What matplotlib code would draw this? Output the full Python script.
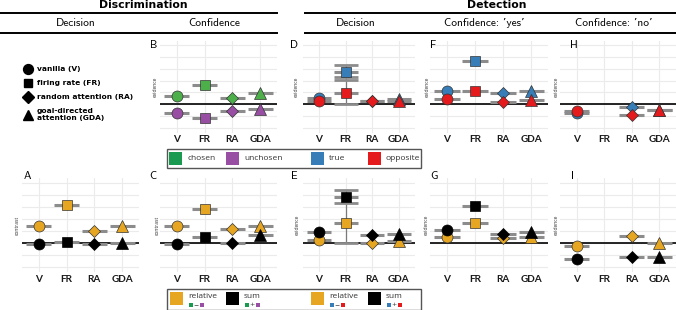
import numpy as np
import matplotlib
matplotlib.use("Agg")
import matplotlib.pyplot as plt
from matplotlib.patches import Rectangle

# ---------------- data ----------------
categories = ["V", "FR", "RA", "GDA"]
shapes = ["o", "s", "D", "^"]
shape_labels = ["vanilla (V)", "firing rate (FR)", "random attention (RA)",
                "goal-directed\nattention (GDA)"]

# Discrimination
disc_dec_relative = [1.44, 3.19, 1.00, 1.38]      # A
disc_dec_sum = [-0.08, 0.13, -0.08, 0.00]
disc_conf_chosen = [0.71, 1.65, 0.54, 0.97]       # B
disc_conf_unchosen = [-0.74, -1.17, -0.57, -0.40]
disc_conf_relative = [1.44, 2.83, 1.17, 1.44]     # C
disc_conf_sum = [-0.08, 0.47, -0.03, 0.67]

# Detection
det_dec_true = [0.54, 2.76, 0.30, 0.45]           # D
det_dec_opposite = [0.28, 0.97, 0.28, 0.28]
det_dec_relative = [0.23, 1.64, -0.03, 0.14]      # E
det_dec_sum = [0.90, 3.80, 0.64, 0.73]
yes_true = [1.16, 3.64, 0.94, 1.08]               # F
yes_opposite = [0.43, 1.16, 0.22, 0.37]
yes_relative = [0.53, 1.67, 0.42, 0.53]           # G
yes_sum = [1.08, 3.10, 0.75, 0.94]
no_true = [-0.77, np.nan, -0.20, -0.50]           # H
no_opposite = [-0.57, np.nan, -0.91, -0.49]
no_relative = [-0.22, np.nan, 0.61, 0.00]         # I
no_sum = [-1.28, np.nan, -1.14, -1.12]

# FR range bars in Detection: Decision
d_fr_range = [0.0, 3.31]
d_fr_extra = [2.30, 2.05]
e_fr_range = [0.0, 4.40]
e_fr_extra = [3.30]

# ---------------- style ----------------
GREEN = "#4DAF4A"
PURPLE = "#984EA3"
BLUE = "#377EB8"
RED = "#E41A1C"
YELLOW = "#E6A621"
BLACK = "#000000"
GRID = "#ebebeb"
BAR = "#8c8c8c"

W, H = 676, 310
fig = plt.figure(figsize=(W / 100, H / 100), dpi=100)

HEAD = "cmss10"
TICKF = "Lato"
TXT = "Open Sans"

def px_axes(l, t, r, b):
    return fig.add_axes([l / W, 1 - b / H, (r - l) / W, (b - t) / H])

msize = {"o": 7.9, "s": 6.6, "D": 6.6, "^": 8.0}

def panel(l, t, r, b, series, letter, ylab, letter_xy, ylab_x,
          rng=None, extra=None):
    ax = px_axes(l, t, r, b)
    x = np.arange(1, len(categories) + 1)
    ax.set_xlim(0.4, 4.6)
    ax.set_ylim(-2.4, 5.4)
    for xv in x:
        ax.axvline(xv, color=GRID, lw=0.8, zorder=0)
    for yv in range(-2, 6):
        ax.axhline(yv, color=GRID, lw=0.8, zorder=0)
    ax.axhline(0, color="black", lw=1.2, zorder=1)
    hw = 0.45
    if rng is not None:
        ax.plot([2, 2], rng, color="#7a7a7a", lw=0.9, zorder=2)
        for yv in list(rng) + list(extra):
            ax.plot([2 - hw, 2 + hw], [yv, yv], color=BAR, lw=2.0,
                    solid_capstyle="butt", zorder=2)
    for vals, col in series:
        for xi, yv in zip(x, vals):
            if np.isnan(yv):
                continue
            ax.plot([xi - hw, xi + hw], [yv, yv], color=BAR, lw=2.2,
                    solid_capstyle="butt", zorder=2)
    for vals, col in series:
        for xi, yv, mk in zip(x, vals, shapes):
            if np.isnan(yv):
                continue
            ax.plot(xi, yv, marker=mk, ms=msize[mk], color=col,
                    mec="#333333" if col != BLACK else BLACK, mew=0.5,
                    zorder=4, ls="none")
    ax.set_xticks(x)
    ax.set_xticklabels(categories, fontsize=7.2, fontweight="bold",
                       family=TICKF, color="#1a1a1a")
    ax.tick_params(axis="x", length=0, pad=2)
    ax.set_yticks([])
    for s in ax.spines.values():
        s.set_visible(False)
    ax.patch.set_alpha(0)
    fig.text(letter_xy[0] / W, 1 - letter_xy[1] / H, letter, family=HEAD,
             fontsize=8, ha="center", va="center")
    fig.text(ylab_x / W, 1 - ((t + b) / 2) / H, ylab, family=TXT,
             fontsize=3.6, rotation=90, ha="center", va="center",
             color="#333333")
    return ax

TOP_T, TOP_B = 40.5, 132.5
BOT_T, BOT_B = 178, 272

# top row
panel(160, TOP_T, 277, TOP_B, [(disc_conf_chosen, GREEN), (disc_conf_unchosen, PURPLE)],
      "B", "evidence", (154, 45), 155)
panel(303, TOP_T, 415, TOP_B, [(det_dec_true, BLUE), (det_dec_opposite, RED)],
      "D", "evidence", (294, 45), 296, rng=d_fr_range, extra=d_fr_extra)
panel(430, TOP_T, 548, TOP_B, [(yes_true, BLUE), (yes_opposite, RED)],
      "F", "evidence", (433, 45), 427)
panel(560, TOP_T, 676, TOP_B, [(no_true, BLUE), (no_opposite, RED)],
      "H", "evidence", (574, 45), 556)

# bottom row
panel(22, BOT_T, 139, BOT_B, [(disc_dec_relative, YELLOW), (disc_dec_sum, BLACK)],
      "A", "contrast", (27, 176), 17)
panel(160, BOT_T, 277, BOT_B, [(disc_conf_relative, YELLOW), (disc_conf_sum, BLACK)],
      "C", "contrast", (153, 176), 157)
panel(303, BOT_T, 415, BOT_B, [(det_dec_relative, YELLOW), (det_dec_sum, BLACK)],
      "E", "evidence", (294, 176), 297, rng=e_fr_range, extra=e_fr_extra)
panel(430, BOT_T, 548, BOT_B, [(yes_relative, YELLOW), (yes_sum, BLACK)],
      "G", "evidence", (434, 176), 426)
panel(560, BOT_T, 676, BOT_B, [(no_relative, YELLOW), (no_sum, BLACK)],
      "I", "evidence", (572, 176), 556)

# ---------------- overlay (headers, legends) ----------------
ov = fig.add_axes([0, 0, 1, 1], zorder=10)
ov.set_xlim(0, W)
ov.set_ylim(H, 0)
ov.axis("off")
ov.patch.set_alpha(0)

ov.text(143, 5.5, "Discrimination", family="DejaVu Sans", fontweight="bold",
        fontsize=7.8, ha="center", va="center")
ov.text(497, 5.5, "Detection", family="DejaVu Sans", fontweight="bold",
        fontsize=7.8, ha="center", va="center")
for x0, x1 in [(0, 277), (305, 676)]:
    ov.plot([x0, x1], [13, 13], color="black", lw=1.4)
    ov.plot([x0, x1], [33, 33], color="black", lw=1.4)
for xc, s in [(76, "Decision"), (214, "Confidence"), (356, "Decision"),
              (484, "Confidence: \u2019yes\u2019"), (614, "Confidence: \u2019no\u2019")]:
    ov.text(xc, 23, s, family=["cmss10", "DejaVu Sans"], fontsize=8.2,
            ha="center", va="center")

# shape legend
shape_y = [69, 83, 97, 114.5]
for mk, lab, yv in zip(shapes, shape_labels, shape_y):
    ov.plot(28, yv, marker=mk, ms=msize[mk] * 0.9, color="black", ls="none")
    ov.text(37, yv, lab, family="DejaVu Sans", fontweight="bold", fontsize=5.4,
            ha="left", va="center", linespacing=1.35)

# top legend
ov.add_patch(Rectangle((167, 148.5), 253.5, 19.5, fill=False, ec="#555555", lw=1.0))
for x0, col, lab in [(169, "#1a9a50", "chosen"), (226, PURPLE, "unchosen"),
                     (311, BLUE, "true"), (368, RED, "opposite")]:
    ov.add_patch(Rectangle((x0, 152), 13, 13, fc=col, ec="none"))
    ov.text(x0 + 18, 158.5, lab, family=TXT, fontsize=6.0, ha="left",
            va="center", color="#333333")

# bottom legend
ov.add_patch(Rectangle((167, 289), 253.5, 20.5, fill=False, ec="#555555", lw=1.0))
for x0, col, lab, c1, op, c2 in [(170, YELLOW, "relative", "#1a9a50", "\u2212", PURPLE),
                                 (226, BLACK, "sum", "#1a9a50", "+", PURPLE),
                                 (311, YELLOW, "relative", BLUE, "\u2212", RED),
                                 (368, BLACK, "sum", BLUE, "+", RED)]:
    ov.add_patch(Rectangle((x0, 292), 13, 13, fc=col, ec="none"))
    tx = x0 + 18
    ov.text(tx, 297, lab, family=TXT, fontsize=6.0, ha="left", va="center",
            color="#333333")
    ov.add_patch(Rectangle((tx + 1, 302.5), 4, 4, fc=c1, ec="none"))
    ov.text(tx + 8, 304.5, op, family="DejaVu Sans", fontsize=4.5, ha="center",
            va="center", color="#333333")
    ov.add_patch(Rectangle((tx + 12, 302.5), 4, 4, fc=c2, ec="none"))

fig.savefig("out.png", dpi=100)
